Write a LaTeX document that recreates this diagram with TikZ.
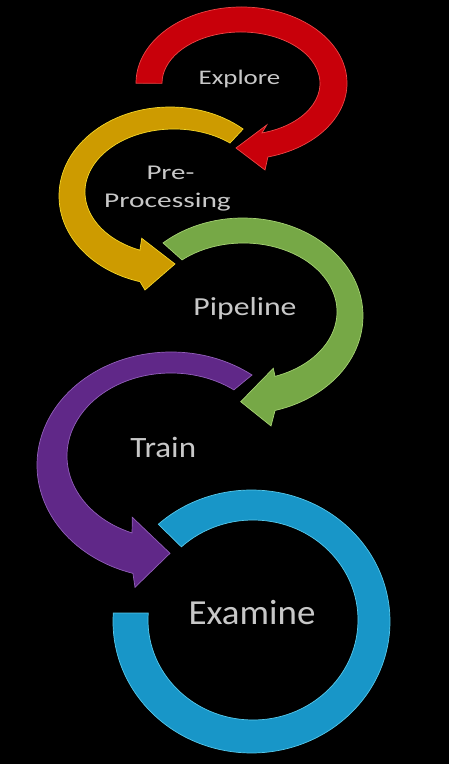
\documentclass[tikz,border=0pt]{standalone}
\usepackage{fontspec}
\usepackage{graphicx}
\usetikzlibrary{calc}
\newfontfamily\lblfont{Carlito}
\definecolor{redc}{RGB}{200,0,10}
\definecolor{redl}{RGB}{235,70,70}
\definecolor{goldc}{RGB}{205,155,0}
\definecolor{goldl}{RGB}{245,215,40}
\definecolor{greenc}{RGB}{118,168,70}
\definecolor{greenl}{RGB}{165,210,115}
\definecolor{purplec}{RGB}{96,40,136}
\definecolor{purplel}{RGB}{145,95,185}
\definecolor{bluec}{RGB}{24,150,200}
\definecolor{bluel}{RGB}{85,200,235}
\definecolor{txtc}{RGB}{200,200,200}
\tikzset{
  band/.style={line width=0.7pt, line join=miter},
  lbl/.style={text=txtc, anchor=base, inner sep=0pt}
}
\begin{document}
\begin{tikzpicture}[x=1pt,y=1pt]
\fill[black] (0,0) rectangle (449,764);
\useasboundingbox (0,0) rectangle (449,764);

% Examine ring (blue)
\filldraw[band, fill=bluec, draw=bluel]
  ($(251.5,142.5)+(132.3:138.5 and 131.5)$)
  arc[start angle=132.3, end angle=-183.7, x radius=138.5, y radius=131.5]
  -- ($(253,144)+(-184:105 and 100)$)
  arc[start angle=-184, end angle=133, x radius=105, y radius=100]
  -- cycle;

% Train arrow (purple)
\filldraw[band, fill=purplec, draw=purplel]
  ($(171,299)+(52.8:134 and 113)$)
  arc[start angle=52.8, end angle=253.5, x radius=134, y radius=113]
  -- (135,176.7) -- (170,210.7) -- (132.3,246.7)
  -- ($(171,308)+(248:104 and 83)$)
  arc[start angle=248, end angle=52.8, x radius=104, y radius=83]
  -- cycle;

% Pipeline arrow (green)
\filldraw[band, fill=greenc, draw=greenl]
  ($(243,448)+(131.8:120 and 98)$)
  arc[start angle=131.8, end angle=-74.5, x radius=120, y radius=98]
  -- (271,338) -- (240.7,362.3) -- (273.3,395.7)
  -- ($(243.5,452.3)+(-70.3:93.5 and 68.7)$)
  arc[start angle=-70.3, end angle=131.1, x radius=93.5, y radius=68.7]
  -- cycle;

% Pre-Processing arrow (gold)
\filldraw[band, fill=goldc, draw=goldl]
  ($(170,568)+(48.8:111 and 89)$)
  arc[start angle=48.8, end angle=254.3, x radius=111, y radius=89]
  -- (145,474) -- (175,500) -- (141.7,525.7)
  -- ($(174,572)+(247.5:89 and 63)$)
  arc[start angle=247.5, end angle=51, x radius=89, y radius=63]
  -- cycle;

% Explore arrow (red)
\filldraw[band, fill=redc, draw=redl]
  ($(241.5,680.8)+(180:105.5 and 76.2)$)
  arc[start angle=180, end angle=-75.5, x radius=105.5, y radius=76.2]
  -- (265,594) -- (236,616) -- (266.7,639)
  -- ($(241,680.6)+(-74.6:79 and 51.4)$)
  arc[start angle=-74.6, end angle=180, x radius=79, y radius=51.4]
  -- cycle;

% Labels
\node[lbl, font=\lblfont\fontsize{20.7}{24}\selectfont] (explore) at (239.5,679)
  {\scalebox{1.3}[1]{Explore}};
\node[lbl, font=\lblfont\fontsize{21}{24}\selectfont] (pre) at (170.5,584)
  {\scalebox{1.38}[1]{Pre-}};
\node[lbl, font=\lblfont\fontsize{21}{24}\selectfont] (processing) at (167.5,556)
  {\scalebox{1.4}[1]{Processing}};
\node[lbl, font=\lblfont\fontsize{26}{30}\selectfont] (pipeline) at (245,448)
  {\scalebox{1.22}[1]{Pipeline}};
\node[lbl, font=\lblfont\fontsize{29.5}{34}\selectfont] (train) at (163.3,306.7)
  {\scalebox{1.12}[1]{Train}};
\node[lbl, font=\lblfont\fontsize{35.2}{40}\selectfont] (examine) at (252,139.7)
  {\scalebox{1.05}[1]{Examine}};
\end{tikzpicture}
\end{document}
